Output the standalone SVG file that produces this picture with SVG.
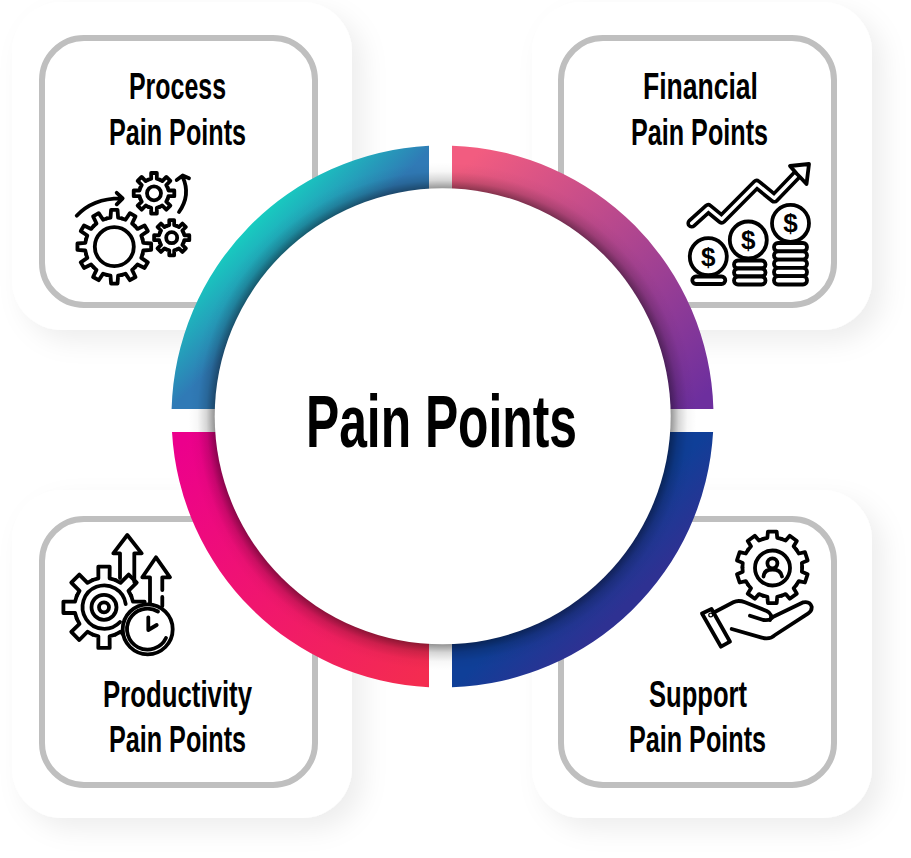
<svg xmlns="http://www.w3.org/2000/svg" xmlns:xlink="http://www.w3.org/1999/xlink" width="911" height="858" viewBox="0 0 911 858">
<style>
.lbl{font-family:"Liberation Sans Narrow","Liberation Sans",Arial,sans-serif;font-weight:700;font-size:36px;fill:#000}
.title{font-size:74px}
.panel{fill:#fff;filter:url(#ps)}
.card{fill:#fff;stroke:#bfbfbf;stroke-width:6}
.ic{fill:none;stroke:#000;stroke-width:3.8;stroke-linecap:round;stroke-linejoin:round}
.icw{fill:#fff;stroke:#000;stroke-width:3.8;stroke-linecap:round;stroke-linejoin:round}
.usd{font-family:"Liberation Sans",Arial,sans-serif;font-weight:700;font-size:26px;fill:#000;text-anchor:middle}
</style>
<defs>
<filter id="ps" x="-15%" y="-15%" width="135%" height="135%"><feDropShadow dx="11" dy="11" stdDeviation="13" flood-color="#000" flood-opacity=".07"/></filter>
<linearGradient id="gTL" gradientUnits="userSpaceOnUse" x1="237" y1="237" x2="290" y2="290"><stop offset="0" stop-color="#17cdc0"/><stop offset="1" stop-color="#307ab6"/></linearGradient>
<linearGradient id="gTR" gradientUnits="userSpaceOnUse" x1="470" y1="160" x2="700" y2="400"><stop offset="0" stop-color="#f25c80"/><stop offset="1" stop-color="#6d2f9e"/></linearGradient>
<linearGradient id="gBL" gradientUnits="userSpaceOnUse" x1="180" y1="445" x2="420" y2="680"><stop offset="0" stop-color="#ec008c"/><stop offset="1" stop-color="#f42c50"/></linearGradient>
<linearGradient id="gBR" gradientUnits="userSpaceOnUse" x1="570" y1="570" x2="615" y2="615"><stop offset="0" stop-color="#0f3f98"/><stop offset="1" stop-color="#2e3192"/></linearGradient>
<radialGradient id="sh" gradientUnits="userSpaceOnUse" cx="442.5" cy="416.5" r="254"><stop offset=".897" stop-color="#000" stop-opacity=".42"/><stop offset=".93" stop-color="#000" stop-opacity=".16"/><stop offset=".965" stop-color="#000" stop-opacity=".03"/><stop offset="1" stop-color="#000" stop-opacity="0"/></radialGradient>
<path id="t12" d="M-20.4-76.3L-10.3-78.3L-8.7-99.6H8.7L10.3-78.3L20.4-76.3"/>
<g id="g12"><use xlink:href="#t12"/><use xlink:href="#t12" transform="rotate(30)"/><use xlink:href="#t12" transform="rotate(60)"/><use xlink:href="#t12" transform="rotate(90)"/><use xlink:href="#t12" transform="rotate(120)"/><use xlink:href="#t12" transform="rotate(150)"/><use xlink:href="#t12" transform="rotate(180)"/><use xlink:href="#t12" transform="rotate(210)"/><use xlink:href="#t12" transform="rotate(240)"/><use xlink:href="#t12" transform="rotate(270)"/><use xlink:href="#t12" transform="rotate(300)"/><use xlink:href="#t12" transform="rotate(330)"/></g>
<path id="t8" d="M-27.6-66.5L-13.7-70.7L-13.9-99H13.9L13.7-70.7L27.6-66.5"/>
<g id="g8"><use xlink:href="#t8"/><use xlink:href="#t8" transform="rotate(45)"/><use xlink:href="#t8" transform="rotate(90)"/><use xlink:href="#t8" transform="rotate(135)"/><use xlink:href="#t8" transform="rotate(180)"/><use xlink:href="#t8" transform="rotate(225)"/><use xlink:href="#t8" transform="rotate(270)"/><use xlink:href="#t8" transform="rotate(315)"/></g>
<path id="t10" d="M-25.6-78.9L-13.7-81.9L-12.2-99.3H12.2L13.7-81.9L25.6-78.9"/>
<g id="g10"><use xlink:href="#t10"/><use xlink:href="#t10" transform="rotate(36)"/><use xlink:href="#t10" transform="rotate(72)"/><use xlink:href="#t10" transform="rotate(108)"/><use xlink:href="#t10" transform="rotate(144)"/><use xlink:href="#t10" transform="rotate(180)"/><use xlink:href="#t10" transform="rotate(216)"/><use xlink:href="#t10" transform="rotate(252)"/><use xlink:href="#t10" transform="rotate(288)"/><use xlink:href="#t10" transform="rotate(324)"/></g>
</defs>
<rect width="911" height="858" fill="#fff"/>
<g id="panels">
<rect class="panel" x="12" y="2" width="340" height="328" rx="50"/>
<rect class="panel" x="532" y="2" width="340" height="328" rx="50"/>
<rect class="panel" x="12" y="490" width="340" height="328" rx="50"/>
<rect class="panel" x="532" y="490" width="340" height="328" rx="50"/>
</g>
<g id="node-process">
<rect class="card" x="42" y="38" width="273" height="267" rx="42"/>
<text class="lbl" x="129" y="99" textLength="97" lengthAdjust="spacingAndGlyphs">Process</text>
<text class="lbl" x="109" y="144.7" textLength="137" lengthAdjust="spacingAndGlyphs">Pain Points</text>
<g class="ic">
<use xlink:href="#g12" transform="translate(114.3 246.7) scale(.37)" stroke-width="10.3"/>
<circle cx="114.3" cy="246.7" r="19.5"/>
<use xlink:href="#g8" transform="translate(154 193.3) scale(.205)" stroke-width="18.5"/>
<circle cx="154" cy="193.3" r="7"/>
<use xlink:href="#g8" transform="translate(171.7 237.7) scale(.178)" stroke-width="21"/>
<circle cx="171.7" cy="237.7" r="5.5"/>
<path d="M76.7 215.7Q93 198 121.7 198.3M116.7 192.8L122.7 198.3L116.7 204.3"/>
<path d="M179 212Q191 195 182.7 177M176.7 180L182.7 175.5L189 178.3"/>
</g>
</g>
<g id="node-financial">
<rect class="card" x="561" y="38" width="273" height="267" rx="42"/>
<text class="lbl" x="643" y="99" textLength="115" lengthAdjust="spacingAndGlyphs">Financial</text>
<text class="lbl" x="631" y="144.7" textLength="137" lengthAdjust="spacingAndGlyphs">Pain Points</text>
<path d="M691.7 223.3L708.3 208.3L721.7 219.3L756.7 184L774.3 198.3L796.7 175" fill="none" stroke="#000" stroke-width="10.6" stroke-linecap="round" stroke-linejoin="round"/>
<path d="M691.7 223.3L708.3 208.3L721.7 219.3L756.7 184L774.3 198.3L796.7 175" fill="none" stroke="#fff" stroke-width="3.4" stroke-linecap="round" stroke-linejoin="round"/>
<g class="icw">
<path d="M790 166L809 164L806.5 184L800 177L797 174Z"/>
<circle cx="708.3" cy="256.7" r="18.5"/><circle cx="748.3" cy="240" r="18.5"/><circle cx="790.5" cy="223.3" r="18.5"/>
<rect x="692.3" y="276.5" width="33" height="7.5" rx="3.7"/>
<rect x="734" y="260.5" width="31.5" height="8" rx="4"/><rect x="734" y="268.5" width="31.5" height="8" rx="4"/><rect x="734" y="276.5" width="31.5" height="8" rx="4"/>
<rect x="774" y="243" width="33" height="8.3" rx="4"/><rect x="774" y="251.3" width="33" height="8.3" rx="4"/><rect x="774" y="259.6" width="33" height="8.3" rx="4"/><rect x="774" y="267.9" width="33" height="8.3" rx="4"/><rect x="774" y="276.2" width="33" height="8.3" rx="4"/>
</g>
<text class="usd" x="708.3" y="265.8">$</text><text class="usd" x="748.3" y="249">$</text><text class="usd" x="790.5" y="232.3">$</text>
</g>
<g id="node-productivity">
<rect class="card" x="42" y="519" width="273" height="266" rx="42"/>
<text class="lbl" x="103" y="706.7" textLength="149" lengthAdjust="spacingAndGlyphs">Productivity</text>
<text class="lbl" x="109" y="751.7" textLength="137" lengthAdjust="spacingAndGlyphs">Pain Points</text>
<g class="ic">
<path d="M120 578V553.3H113.3L127.3 535L141.7 553.3H134.3V582"/>
<path d="M150 605V577.3H142.3L156 557.3L170 577.3H162.3V590M162.3 597V606"/>
<use xlink:href="#g8" transform="translate(104 607.3) scale(.41)" stroke-width="9.3"/>
<path d="M125.7 604A21.7 21.7 0 1 0 120 622"/>
<circle cx="104" cy="607.3" r="12.5"/><circle cx="104" cy="607.3" r="5"/>
<circle class="icw" cx="147.7" cy="629.3" r="25"/>
<path d="M158 611.5A20.5 20.5 0 1 0 166 638"/>
<path d="M148.3 617.3V630L156.7 625"/>
</g>
</g>
<g id="node-support">
<rect class="card" x="561" y="519" width="273" height="266" rx="42"/>
<text class="lbl" x="649" y="706.7" textLength="98" lengthAdjust="spacingAndGlyphs">Support</text>
<text class="lbl" x="629" y="751.7" textLength="137" lengthAdjust="spacingAndGlyphs">Pain Points</text>
<g class="ic">
<use xlink:href="#g10" transform="translate(772.3 567.3) scale(.36)" stroke-width="10.5"/>
<circle cx="772.5" cy="568" r="17.5"/><circle cx="772.4" cy="563.3" r="5"/>
<path d="M763.5 576.5C764 570 769 569.5 772.5 569.5C777 569.5 781 571 782 576.5"/>
<path d="M702 613.5L711.5 609L730 641.7L721 646.7Z"/>
<path d="M714.3 612.3L733.3 602.3Q738.3 599.7 745 602.3L766.7 611Q773.3 614.3 770 620M750 615.7L763.3 620Q770 621 773.3 616.7L803.3 602.3Q810 601 811.7 606.7Q812 611 808.3 613.3L775 635Q770 640 761.7 637.7L731.7 629"/>
<circle cx="710.7" cy="615" r=".6"/>
</g>
</g>
<g id="ring">
<path fill="url(#gTL)" d="M429 145.8A271 271 0 0 0 171.6 409H216.6A226 226 0 0 1 429 190.9Z"/>
<path fill="url(#gTR)" d="M452 145.7A271 271 0 0 1 713.4 409H668.4A226 226 0 0 0 452 190.7Z"/>
<path fill="url(#gBR)" d="M713.1 432A271 271 0 0 1 452 687.3V642.3A226 226 0 0 0 668 432Z"/>
<path fill="url(#gBL)" d="M172 432A271 271 0 0 0 429 687.2V642.1A226 226 0 0 1 217 432Z"/>
</g>
<g id="node-center">
<circle cx="442.5" cy="416.5" r="254" fill="url(#sh)"/>
<circle cx="442.7" cy="416.3" r="228" fill="#fff"/>
<text class="lbl title" x="306" y="447" textLength="271" lengthAdjust="spacingAndGlyphs">Pain Points</text>
</g>
</svg>
